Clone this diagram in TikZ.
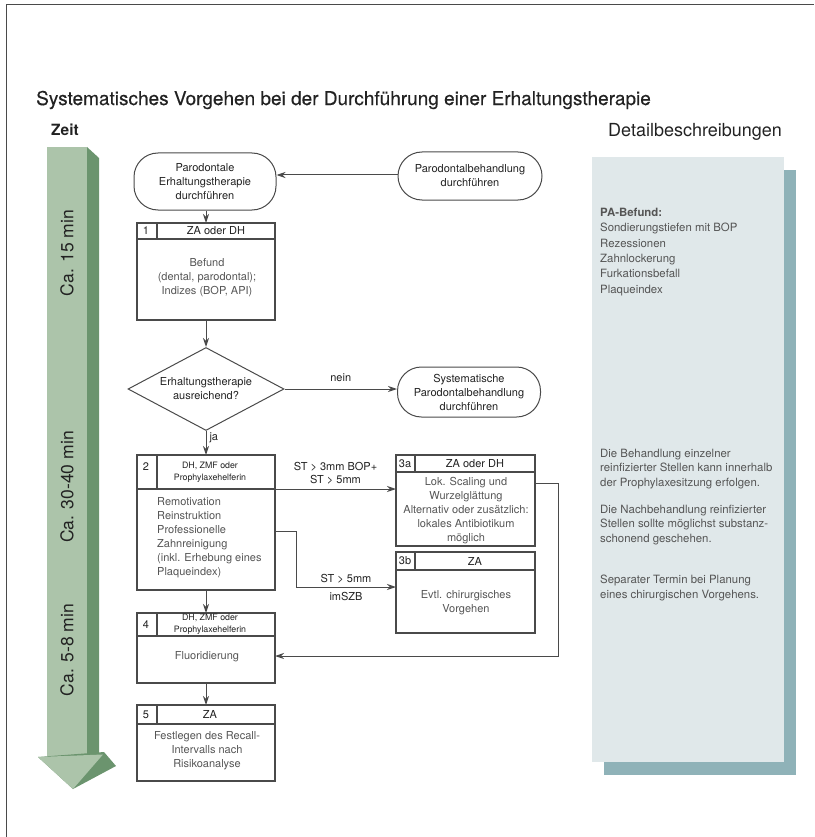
\documentclass[tikz,border=0pt]{standalone}
\usepackage{fontspec}
\setmainfont{TeX Gyre Heros}
\newfontfamily\titlefont[FakeBold=0.35]{TeX Gyre Heros}
\usetikzlibrary{shapes.geometric,arrows.meta,calc}
\definecolor{lgreen}{HTML}{ACC4AA}
\definecolor{dgreen}{HTML}{6B946E}
\definecolor{panelc}{HTML}{E0E8EA}
\definecolor{shadowc}{HTML}{8FB2B8}
\definecolor{lc}{HTML}{4A4A4A}
\definecolor{tc}{HTML}{555555}
\definecolor{hc}{HTML}{222222}
\newcommand{\mkbox}[7]{%
  \node[boxframe, minimum width={#4-#2}, minimum height={#5-#3}] (#1) at ({(#2+#4)/2},{(#3+#5)/2}) {};
  \draw[ln] (#2,#6) -- (#4,#6);
  \draw[ln] (#7,#3) -- (#7,#6);
}
\begin{document}
\begin{tikzpicture}[x=1pt,y=-1pt,
  ln/.style={draw=lc, line width=1.1pt},
  boxframe/.style={draw=lc, line width=1.1pt, rectangle, inner sep=0pt, outer sep=0pt},
  term/.style={draw=lc, line width=1pt, rectangle, rounded corners=24pt, inner sep=0pt, align=center, text=hc, font=\fontsize{11}{14}\selectfont},
  dia/.style={draw=lc, line width=1pt, diamond, aspect=1.88, inner sep=0pt, align=center, text=hc, font=\fontsize{11}{14}\selectfont},
  arr/.style={draw=lc, line width=1pt, -{Stealth[length=9pt,width=6pt]}},
  body/.style={text=tc, font=\fontsize{11}{14}\selectfont, inner sep=0pt, align=center},
  bodyl/.style={text=tc, font=\fontsize{11}{14}\selectfont, inner sep=0pt, align=left},
  head/.style={text=hc, font=\fontsize{11}{13}\selectfont, inner sep=0pt, align=center},
  heads/.style={text=hc, font=\fontsize{8.8}{12}\selectfont, inner sep=0pt, align=center},
  lab/.style={text=hc, font=\fontsize{11}{13}\selectfont, inner sep=0pt, align=center},
  pan/.style={text=tc, font=\fontsize{11.4}{14.3}\selectfont, inner sep=0pt, align=left, anchor=north west},
  timel/.style={text=hc, font=\fontsize{17.5}{20}\selectfont, rotate=90, inner sep=0pt}
]
\useasboundingbox (0,0) rectangle (814,837);
% frame
\draw[lc, line width=1pt] (6,837) -- (6,5) -- (814,5);
% headings
\node[anchor=west, inner sep=0pt, text=hc, font=\titlefont\fontsize{19}{22}\selectfont] (title) at (36,100) {Systematisches Vorgehen bei der Durchführung einer Erhaltungstherapie};
\node[anchor=west, inner sep=0pt, text=hc, font=\fontsize{15.5}{18}\selectfont\bfseries] (zeit) at (51,130) {Zeit};
\node[anchor=west, inner sep=0pt, text=hc, font=\fontsize{18}{20}\selectfont] (detail) at (608,132) {Detailbeschreibungen};
% time arrow
\fill[lgreen] (47,147) rectangle (87,757);
\fill[dgreen] (87,147) -- (99,158) -- (99,757) -- (87,757) -- cycle;
\fill[dgreen] (38,757) -- (104,752) -- (116,766) -- (73,789) -- cycle;
\fill[lgreen] (38,757) -- (103,754.5) -- (73,789) -- cycle;
\node[timel] (t1) at (67,253) {Ca. 15 min};
\node[timel] (t2) at (67,487) {Ca. 30-40 min};
\node[timel] (t3) at (67,650) {Ca. 5-8 min};
% detail panel
\fill[shadowc] (604,170) rectangle (796,775);
\fill[panelc] (592,157) rectangle (784,762);
\node[pan, font=\fontsize{11.4}{15.3}\selectfont] (pa) at (600,208) {\textbf{PA-Befund:}\\Sondierungstiefen mit BOP\\Rezessionen\\Zahnlockerung\\Furkationsbefall\\Plaqueindex};
\node[pan] (pb) at (600,449) {Die Behandlung einzelner\\reinfizierter Stellen kann innerhalb\\der Prophylaxesitzung erfolgen.};
\node[pan] (pc) at (600,505) {Die Nachbehandlung reinfizierter\\Stellen sollte möglichst substanz-\\schonend geschehen.};
\node[pan] (pd) at (600,575) {Separater Termin bei Planung\\eines chirurgischen Vorgehens.};
% terminals
\node[term, minimum width=142, minimum height=57] (p1) at (205,181.5) {Parodontale\\Erhaltungstherapie\\durchführen};
\node[term, minimum width=144, minimum height=48] (p2) at (470,176) {Parodontalbehandlung\\durchführen};
\node[dia, minimum width=156, minimum height=83] (d) at (206,389) {Erhaltungstherapie\\ausreichend?};
\node[term, minimum width=143, minimum height=50] (s) at (469,392) {Systematische\\Parodontalbehandlung\\durchführen};
% step boxes
\mkbox{b1}{137}{223}{275}{320}{239}{157}
\node[head] (n1) at (146,231) {1};
\node[head] (h1) at (216,231) {ZA oder DH};
\node[body] (x1) at (207,278) {Befund\\(dental, parodontal);\\Indizes (BOP, API)};
\mkbox{b2}{137}{455}{275}{590}{489}{157}
\node[head] (n2) at (146,467) {2};
\node[heads] (h2) at (210,472) {DH, ZMF oder\\Prophylaxehelferin};
\node[bodyl, anchor=west] (x2) at (157,538) {Remotivation\\Reinstruktion\\Professionelle\\Zahnreinigung\\(inkl. Erhebung eines\\Plaqueindex)};
\mkbox{b3a}{396}{455}{535}{546}{472}{415}
\node[head] (n3a) at (405,463.5) {3a};
\node[head] (h3a) at (475,463.5) {ZA oder DH};
\node[body] (x3a) at (466,510.5) {Lok. Scaling und\\Wurzelglättung\\Alternativ oder zusätzlich:\\lokales Antibiotikum\\möglich};
\mkbox{b3b}{396}{552}{535}{633}{570}{415}
\node[head] (n3b) at (405,561) {3b};
\node[head] (h3b) at (475,561) {ZA};
\node[body] (x3b) at (466,602.5) {Evtl. chirurgisches\\Vorgehen};
\mkbox{b4}{137}{613}{275}{683}{636}{157}
\node[head] (n4) at (146,624.5) {4};
\node[heads] (h4) at (210,624.5) {DH, ZMF oder\\Prophylaxehelferin};
\node[body] (x4) at (207,657) {Fluoridierung};
\mkbox{b5}{137}{705}{275}{781}{724}{157}
\node[head] (n5) at (146,714.5) {5};
\node[head] (h5) at (210,714.5) {ZA};
\node[body] (x5) at (207,751) {Festlegen des Recall-\\Intervalls nach\\Risikoanalyse};
% connectors
\draw[arr] (p2.west |- 0,175) -- (p1.east |- 0,175);
\draw[arr] (p1.south -| b1.north) -- (b1.north);
\draw[arr] (b1.south) -- (d.north);
\draw[arr] (d.east) -- node[lab, above=7pt] (nein) {nein} (s.west |- d.east);
\draw[arr] (d.south) -- node[lab, right=3pt, pos=0.3] (ja) {ja} (b2.north);
\draw[arr] ($(b2.north east)+(0,34)$) -- node[lab, above=4pt] (l1) {ST > 3mm BOP+\\ST > 5mm} ($(b3a.north west)+(0,34)$);
\draw[arr] ($(b2.north east)+(0,76)$) -- ++(21,0) |- node[lab, pos=0.75, above=3pt] (l2) {ST > 5mm} node[lab, pos=0.75, below=5pt] (l3) {imSZB} ($(b3b.west)+(0,-5.5)$);
\draw[arr] ($(b3a.north east)+(0,28)$) -- ++(23,0) |- ($(b4.east)+(0,8)$);
\draw[arr] (b2.south) -- (b4.north);
\draw[arr] (b4.south) -- (b5.north);
\end{tikzpicture}
\end{document}
